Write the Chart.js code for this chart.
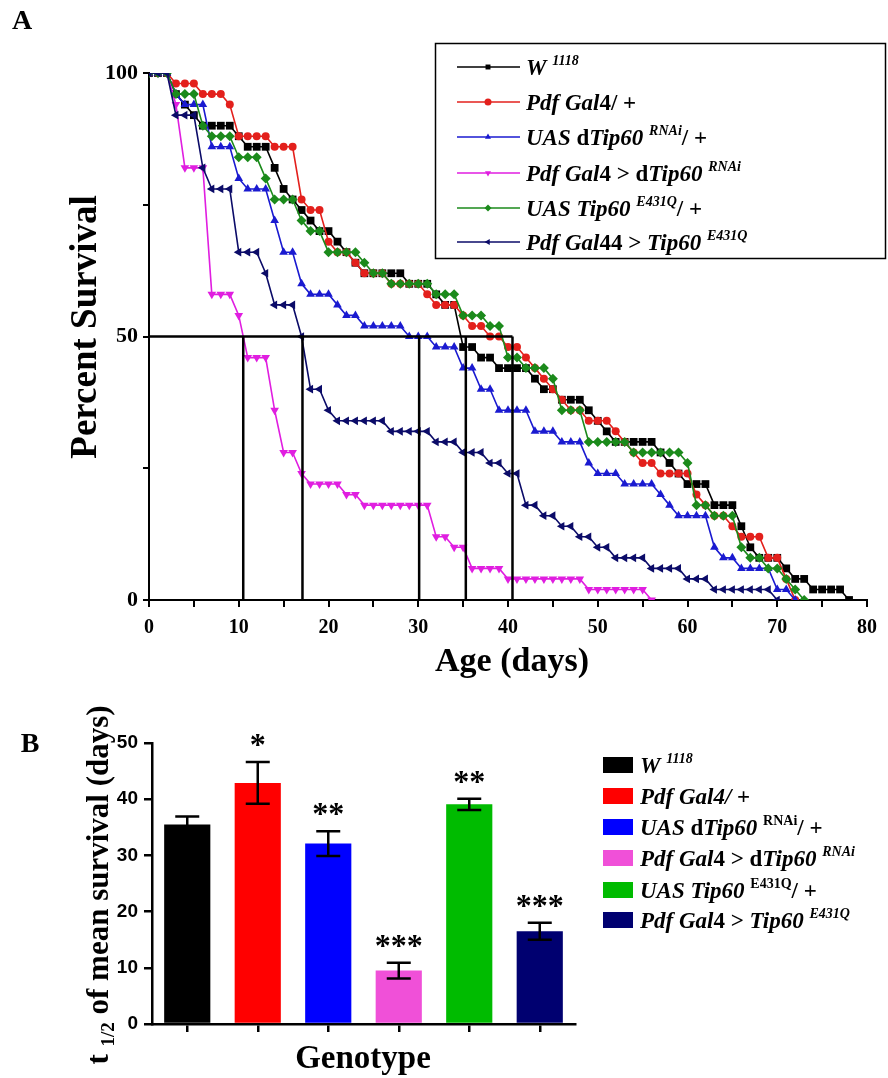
<!DOCTYPE html>
<html>
<head>
<meta charset="utf-8">
<title>Survival of Pdf > Tip60 flies</title>
<script src="https://cdn.jsdelivr.net/npm/chart.js@4.4.1/dist/chart.umd.min.js"></script>
<style>
  html, body { margin: 0; padding: 0; background: #fff; }
  #wrap { position: relative; width: 888px; height: 1078px; }
  #chartA { position: absolute; left: 0; top: 0; width: 888px; height: 690px; }
  #chartB { position: absolute; left: 0; top: 690px; width: 888px; height: 388px; }
</style>
</head>
<body>
<div id="wrap">
  <canvas id="chartA" width="888" height="690"></canvas>
  <canvas id="chartB" width="888" height="388"></canvas>
</div>
<script>
/* ---- Panel A: percent survival, one value per day (index = age in days) ---- */
const survW1118 = [
  100,100,100,96,94,92,90,90,90,90,
  88,86,86,86,82,78,76,74,72,70,
  70,68,66,64,62,62,62,62,62,60,
  60,60,58,56,56,48,48,46,46,44,
  44,44,44,42,40,40,38,38,38,36,
  34,32,30,30,30,30,30,28,26,24,
  22,22,22,18,18,18,14,10,8,8,
  8,6,4,4,2,2,2,2,0];
const survPdfGal4 = [
  100,100,100,98,98,98,96,96,96,94,
  88,88,88,88,86,86,86,76,74,74,
  68,66,66,64,62,62,62,60,60,60,
  60,58,56,56,56,54,52,52,50,50,
  48,48,46,44,42,40,38,36,36,34,
  34,34,32,30,28,26,26,24,24,24,
  24,20,18,16,16,14,12,12,12,8,
  8,4,0];
const survUasRnai = [
  100,100,100,96,94,94,94,86,86,86,
  80,78,78,78,72,66,66,60,58,58,
  58,56,54,54,52,52,52,52,52,50,
  50,50,48,48,48,44,44,40,40,36,
  36,36,36,32,32,32,30,30,30,26,
  24,24,24,22,22,22,22,20,18,16,
  16,16,16,10,8,8,6,6,6,6,
  2,2,0];
const survPdfRnai = [
  100,100,100,94,82,82,82,58,58,58,
  54,46,46,46,36,28,28,24,22,22,
  22,22,20,20,18,18,18,18,18,18,
  18,18,12,12,10,10,6,6,6,6,
  4,4,4,4,4,4,4,4,4,2,
  2,2,2,2,2,2,0];
const survUasE431Q = [
  100,100,100,96,96,96,90,88,88,88,
  84,84,84,80,76,76,76,72,70,70,
  66,66,66,66,64,62,62,60,60,60,
  60,60,58,58,58,54,54,54,52,52,
  46,46,44,44,44,42,36,36,36,30,
  30,30,30,30,28,28,28,28,28,28,
  26,18,18,16,16,16,10,8,8,6,
  6,4,2,0];
const survPdfE431Q = [
  100,100,100,92,92,92,82,78,78,78,
  66,66,66,62,56,56,56,50,40,40,
  36,34,34,34,34,34,34,32,32,32,
  32,32,30,30,30,28,28,28,26,26,
  24,24,18,18,16,16,14,14,12,12,
  10,10,8,8,8,8,6,6,6,6,
  4,4,4,2,2,2,2,2,2,2,
  0];

// median survival markers (days) and the level they are read at
const halfSurvivalDays = [10.5, 17.1, 30.1, 35.3, 40.5];
const halfSurvivalLevel = 50;

// legend text: _ toggles italic, ^ toggles superscript
const legendLabelsA = [
  '_W_ ^_1118_^',
  '_Pdf Gal_4/ +',
  '_UAS_ d_Tip60_ ^_RNAi_^/ +',
  '_Pdf Gal_4 > d_Tip60_ ^_RNAi_^',
  '_UAS Tip60_ ^_E431Q_^/ +',
  '_Pdf Gal_44 > _Tip60_ ^_E431Q_^'
];

/* ---- Panel B: t1/2 of mean survival ---- */
const genotypeLabelsB = [
  '_W_ ^_1118_^',
  '_Pdf Gal4/_ +',
  '_UAS_ d_Tip60_ ^RNAi^/ +',
  '_Pdf Gal_4 > d_Tip60_ ^_RNAi_^',
  '_UAS Tip60_ ^E431Q^/ +',
  '_Pdf Gal_4 > _Tip60_ ^_E431Q_^'
];
const halfLifeMean = [35.5, 42.9, 32.1, 9.5, 39.1, 16.5];
const halfLifeErr = [1.4, 3.7, 2.2, 1.4, 1.0, 1.5];
const significance = ['', '*', '**', '***', '**', '***'];

/* ---- styles ---- */
const SERIF = '"Liberation Serif", "Times New Roman", serif';
const SANS = '"Liberation Sans", Arial, sans-serif';

const lineStyles = [
  { color: '#000000', point: 'rect',     rotation: 0,   radius: 5.5 },
  { color: '#e3201c', point: 'circle',   rotation: 0,   radius: 4 },
  { color: '#1a1ad0', point: 'triangle', rotation: 0,   radius: 5 },
  { color: '#e01ee0', point: 'triangle', rotation: 180, radius: 5 },
  { color: '#1b8a1b', point: 'rectRot',  rotation: 0,   radius: 5 },
  { color: '#0b0b68', point: 'triangle', rotation: 270, radius: 5 }
];
const barColors = ['#000000', '#ff0000', '#0000ff', '#f050d8', '#00bb00', '#000070'];

// --- rich text helpers (italic / superscript / subscript) ---
function parseMarkup(str) {
  const segs = [];
  let it = false, sup = false, sub = false, buf = '';
  for (const ch of str) {
    if (ch === '_' || ch === '^' || ch === '~') {
      if (buf) segs.push({ t: buf, it, sup, sub });
      buf = '';
      if (ch === '_') it = !it;
      else if (ch === '^') sup = !sup;
      else sub = !sub;
    } else {
      buf += ch;
    }
  }
  if (buf) segs.push({ t: buf, it, sup, sub });
  return segs;
}

function segFont(s, size) {
  const fs = (s.sup || s.sub) ? Math.round(size * 0.62) : size;
  return (s.it ? 'italic ' : '') + 'bold ' + fs + 'px ' + SERIF;
}

function measureRich(ctx, str, size) {
  let w = 0;
  parseMarkup(str).forEach(s => { ctx.font = segFont(s, size); w += ctx.measureText(s.t).width; });
  return w;
}

function drawRich(ctx, str, x, baseline, size) {
  ctx.textAlign = 'left';
  ctx.textBaseline = 'alphabetic';
  let cx = x;
  parseMarkup(str).forEach(s => {
    ctx.font = segFont(s, size);
    let y = baseline;
    if (s.sup) y -= size * 0.42;
    if (s.sub) y += size * 0.18;
    ctx.fillText(s.t, cx, y);
    cx += ctx.measureText(s.t).width;
  });
}

function drawMarker(ctx, st, x, y, r) {
  ctx.fillStyle = st.color;
  ctx.strokeStyle = st.color;
  if (Chart.helpers && Chart.helpers.drawPoint) {
    Chart.helpers.drawPoint(ctx, { pointStyle: st.point, rotation: st.rotation, radius: r, borderWidth: 0 }, x, y);
  } else {
    ctx.beginPath();
    ctx.arc(x, y, r, 0, Math.PI * 2);
    ctx.fill();
  }
}

/* ========== Panel A ========== */
const survivalSeries = [survW1118, survPdfGal4, survUasRnai, survPdfRnai, survUasE431Q, survPdfE431Q];

const panelADecor = {
  id: 'panelADecor',
  afterDatasetsDraw(chart) {
    const ctx = chart.ctx;
    const xs = chart.scales.x, ys = chart.scales.y;
    const yHalf = ys.getPixelForValue(halfSurvivalLevel);
    const y0 = ys.getPixelForValue(0);
    ctx.save();
    ctx.strokeStyle = '#000';
    ctx.lineWidth = 2.5;
    ctx.beginPath();
    ctx.moveTo(xs.getPixelForValue(0), yHalf);
    ctx.lineTo(xs.getPixelForValue(Math.max(...halfSurvivalDays)), yHalf);
    halfSurvivalDays.forEach(d => {
      const px = xs.getPixelForValue(d);
      ctx.moveTo(px, yHalf);
      ctx.lineTo(px, y0);
    });
    ctx.stroke();
    ctx.restore();
  },
  afterDraw(chart) {
    const ctx = chart.ctx;
    ctx.save();
    ctx.fillStyle = '#000';

    // panel letter
    ctx.font = 'bold 28px ' + SERIF;
    ctx.textAlign = 'center';
    ctx.textBaseline = 'middle';
    ctx.fillText('A', 22, 22);

    // axis titles
    ctx.font = 'bold 34px ' + SERIF;
    ctx.fillText('Age (days)', 512, 662);
    ctx.save();
    ctx.translate(86, 327);
    ctx.rotate(-Math.PI / 2);
    ctx.font = 'bold 37px ' + SERIF;
    ctx.fillText('Percent Survival', 0, 0);
    ctx.restore();

    // legend box
    ctx.strokeStyle = '#000';
    ctx.lineWidth = 1.5;
    ctx.strokeRect(435.5, 43.5, 450, 215);
    const rowY = [67, 102, 137, 173, 208, 242];
    legendLabelsA.forEach((label, i) => {
      const st = lineStyles[i];
      const y = rowY[i];
      ctx.strokeStyle = st.color;
      ctx.lineWidth = 1.5;
      ctx.beginPath();
      ctx.moveTo(457, y);
      ctx.lineTo(520, y);
      ctx.stroke();
      drawMarker(ctx, st, 488, y, 3.5);
      ctx.fillStyle = '#000';
      drawRich(ctx, label, 526, y + 8, 23);
    });
    ctx.restore();
  }
};

new Chart(document.getElementById('chartA'), {
  type: 'line',
  data: {
    datasets: survivalSeries.map((surv, i) => ({
      label: legendLabelsA[i].replace(/[_^]/g, ''),
      data: surv.map((v, day) => ({ x: day, y: v })),
      borderColor: lineStyles[i].color,
      backgroundColor: lineStyles[i].color,
      borderWidth: 1.6,
      pointStyle: lineStyles[i].point,
      pointRotation: lineStyles[i].rotation,
      pointRadius: lineStyles[i].radius,
      pointBorderWidth: 0,
      tension: 0,
      fill: false,
      order: survivalSeries.length - i
    }))
  },
  options: {
    responsive: false,
    animation: false,
    layout: { padding: { top: 73, right: 21, left: 0, bottom: 0 } },
    plugins: { legend: { display: false }, tooltip: { enabled: false } },
    scales: {
      x: {
        type: 'linear',
        min: 0,
        max: 80,
        ticks: {
          stepSize: 5,
          autoSkip: false,
          maxRotation: 0,
          padding: 9,
          color: '#000',
          font: { family: SERIF, size: 20, weight: 'bold' },
          callback: v => (v % 10 === 0 ? v : '')
        },
        grid: { drawOnChartArea: false, color: '#000', lineWidth: 2, tickLength: 7 },
        border: { color: '#000', width: 2 },
        afterFit(scale) { scale.height = 90; }
      },
      y: {
        min: 0,
        max: 100,
        ticks: {
          stepSize: 25,
          autoSkip: false,
          padding: 5,
          color: '#000',
          font: { family: SERIF, size: 22, weight: 'bold' },
          callback: v => (v % 50 === 0 ? v : '')
        },
        grid: { drawOnChartArea: false, color: '#000', lineWidth: 2, tickLength: 6 },
        border: { color: '#000', width: 2 },
        afterFit(scale) { scale.width = 149; }
      }
    }
  },
  plugins: [panelADecor]
});

/* ========== Panel B ========== */
const panelBDecor = {
  id: 'panelBDecor',
  afterDatasetsDraw(chart) {
    const ctx = chart.ctx;
    const ys = chart.scales.y;
    const meta = chart.getDatasetMeta(0);
    ctx.save();
    ctx.strokeStyle = '#000';
    ctx.fillStyle = '#000';
    ctx.lineWidth = 2.5;
    halfLifeMean.forEach((m, i) => {
      const x = meta.data[i].x;
      const yTop = ys.getPixelForValue(m + halfLifeErr[i]);
      const yBot = ys.getPixelForValue(m - halfLifeErr[i]);
      ctx.beginPath();
      ctx.moveTo(x, yTop); ctx.lineTo(x, yBot);
      ctx.moveTo(x - 12, yTop); ctx.lineTo(x + 12, yTop);
      ctx.moveTo(x - 12, yBot); ctx.lineTo(x + 12, yBot);
      ctx.stroke();
      if (significance[i]) {
        ctx.font = 'bold 32px ' + SERIF;
        ctx.textAlign = 'center';
        ctx.textBaseline = 'alphabetic';
        ctx.fillText(significance[i], x, yTop - 7);
      }
    });
    ctx.restore();
  },
  afterDraw(chart) {
    const ctx = chart.ctx;
    ctx.save();
    ctx.fillStyle = '#000';
    ctx.font = 'bold 28px ' + SERIF;
    ctx.textAlign = 'center';
    ctx.textBaseline = 'middle';
    ctx.fillText('B', 30, 55);

    ctx.font = 'bold 33px ' + SERIF;
    ctx.fillText('Genotype', 363, 369);

    // rotated y title with subscript
    const title = 't ~1/2~ of mean survival (days)';
    const w = measureRich(ctx, title, 31);
    ctx.save();
    ctx.translate(97, 195);
    ctx.rotate(-Math.PI / 2);
    drawRich(ctx, title, -w / 2, 11, 31);
    ctx.restore();

    // legend
    const rowY = [75, 106, 137, 168, 200, 230];
    genotypeLabelsB.forEach((label, i) => {
      ctx.fillStyle = barColors[i];
      ctx.fillRect(603, rowY[i] - 8, 30, 16);
      ctx.fillStyle = '#000';
      drawRich(ctx, label, 640, rowY[i] + 8, 23);
    });
    ctx.restore();
  }
};

new Chart(document.getElementById('chartB'), {
  type: 'bar',
  data: {
    labels: genotypeLabelsB.map(l => l.replace(/[_^]/g, '')),
    datasets: [{
      data: halfLifeMean,
      backgroundColor: barColors,
      borderWidth: 0,
      barPercentage: 0.655,
      categoryPercentage: 1
    }]
  },
  options: {
    responsive: false,
    animation: false,
    layout: { padding: { top: 53, right: 313, left: 0, bottom: 0 } },
    plugins: { legend: { display: false }, tooltip: { enabled: false } },
    scales: {
      x: {
        ticks: { callback: () => '' },
        grid: { offset: false, drawOnChartArea: false, color: '#000', lineWidth: 2.5, tickLength: 8 },
        border: { color: '#000', width: 2.5 },
        afterFit(scale) { scale.height = 54; }
      },
      y: {
        min: 0,
        max: 50,
        ticks: {
          stepSize: 10,
          padding: 6,
          color: '#000',
          font: { family: SANS, size: 19, weight: 'bold' }
        },
        grid: { drawOnChartArea: false, color: '#000', lineWidth: 2.5, tickLength: 8 },
        border: { color: '#000', width: 2.5 },
        afterFit(scale) { scale.width = 152; }
      }
    }
  },
  plugins: [panelBDecor]
});
</script>
</body>
</html>
